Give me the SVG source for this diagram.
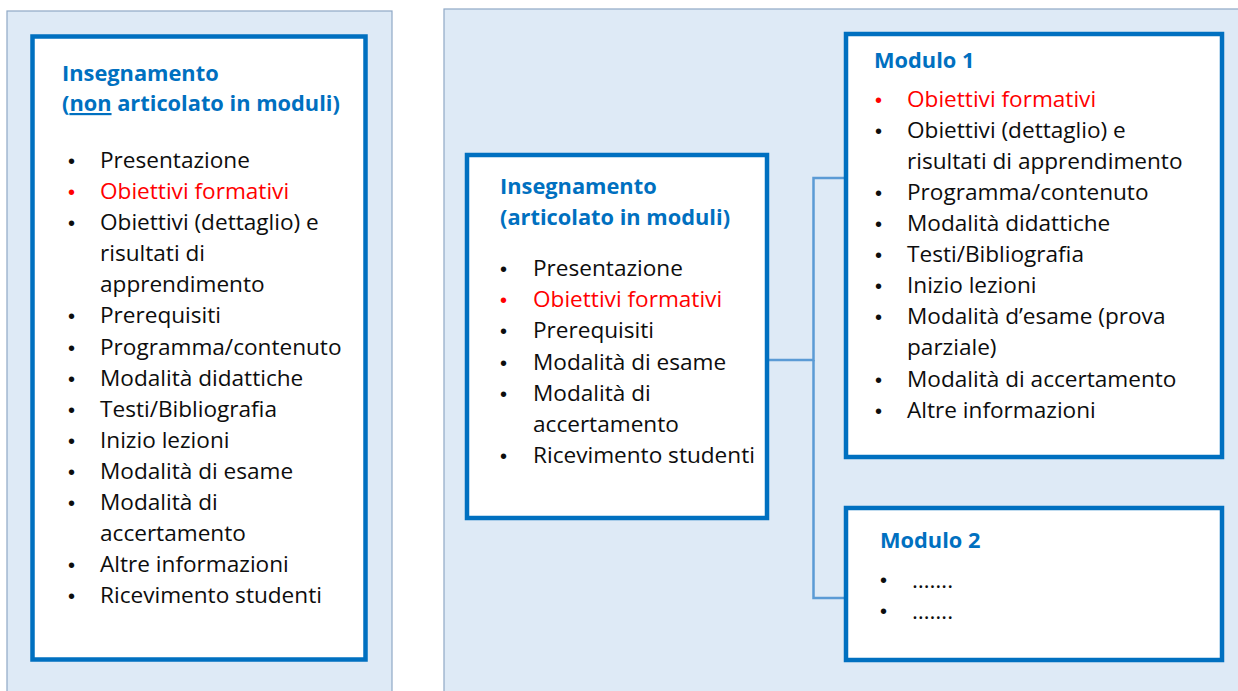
<svg xmlns="http://www.w3.org/2000/svg" width="1238" height="691" viewBox="0 0 1238 691">
<style>
.panel{fill:#DEEAF6;stroke:#8FA8C6;stroke-width:1.2}
.box{fill:#FFFFFF;stroke:#0070C0;stroke-width:4.5}
.conn{fill:none;stroke:#5B9BD5;stroke-width:2.5}
text{font-family:"Open Sans","Noto Sans","Liberation Sans",sans-serif;font-size:22.6px;fill:#0D0D0D}
.t{font-weight:bold;fill:#0070C0;font-size:21.8px}
.r{fill:#FF0000}
.b{font-family:"Liberation Sans","DejaVu Sans",sans-serif;font-size:20px}
</style>
<rect class="panel" x="7" y="11" width="385" height="700"/>
<rect class="panel" x="444" y="9" width="810" height="700"/>

<g id="connectors">
<path class="conn" d="M769 360 H813.5 V178 H846"/>
<path class="conn" d="M813.5 360 V598 H846"/>
</g>

<g id="insegnamento-non-articolato">
<rect class="box" x="32.5" y="36.5" width="333" height="623"/>
<text class="t" x="62" y="81">Insegnamento</text>
<text class="t" x="62" y="111">(<tspan text-decoration="underline">non</tspan> articolato in moduli)</text>
<g>
<text class="b" x="68" y="168">•</text><text x="100" y="168">Presentazione</text>
<text class="b r" x="68" y="199">•</text><text class="r" x="100" y="199">Obiettivi formativi</text>
<text class="b" x="68" y="230">•</text><text x="100" y="230">Obiettivi (dettaglio) e</text>
<text x="100" y="261">risultati di</text>
<text x="100" y="292">apprendimento</text>
<text class="b" x="68" y="323">•</text><text x="100" y="323">Prerequisiti</text>
<text class="b" x="68" y="355">•</text><text x="100" y="355">Programma/contenuto</text>
<text class="b" x="68" y="386">•</text><text x="100" y="386">Modalità didattiche</text>
<text class="b" x="68" y="417">•</text><text x="100" y="417">Testi/Bibliografia</text>
<text class="b" x="68" y="448">•</text><text x="100" y="448">Inizio lezioni</text>
<text class="b" x="68" y="479">•</text><text x="100" y="479">Modalità di esame</text>
<text class="b" x="68" y="510">•</text><text x="100" y="510">Modalità di</text>
<text x="100" y="541">accertamento</text>
<text class="b" x="68" y="572">•</text><text x="100" y="572">Altre informazioni</text>
<text class="b" x="68" y="603">•</text><text x="100" y="603">Ricevimento studenti</text>
</g>
</g>

<g id="insegnamento-articolato">
<rect class="box" x="467" y="155" width="300" height="363"/>
<text class="t" x="500" y="194">Insegnamento</text>
<text class="t" x="500" y="225">(articolato in moduli)</text>
<text class="b" x="500" y="276">•</text><text x="533" y="276">Presentazione</text>
<text class="b r" x="500" y="307">•</text><text class="r" x="533" y="307">Obiettivi formativi</text>
<text class="b" x="500" y="338">•</text><text x="533" y="338">Prerequisiti</text>
<text class="b" x="500" y="370">•</text><text x="533" y="370">Modalità di esame</text>
<text class="b" x="500" y="401">•</text><text x="533" y="401">Modalità di</text>
<text x="533" y="432">accertamento</text>
<text class="b" x="500" y="463">•</text><text x="533" y="463">Ricevimento studenti</text>
</g>

<g id="modulo-1">
<rect class="box" x="846" y="34" width="376" height="423"/>
<text class="t" x="874" y="68">Modulo 1</text>
<text class="b r" x="875" y="107">•</text><text class="r" x="907" y="107">Obiettivi formativi</text>
<text class="b" x="875" y="138">•</text><text x="907" y="138">Obiettivi (dettaglio) e</text>
<text x="907" y="169">risultati di apprendimento</text>
<text class="b" x="875" y="200">•</text><text x="907" y="200">Programma/contenuto</text>
<text class="b" x="875" y="231">•</text><text x="907" y="231">Modalità didattiche</text>
<text class="b" x="875" y="262">•</text><text x="907" y="262">Testi/Bibliografia</text>
<text class="b" x="875" y="293">•</text><text x="907" y="293">Inizio lezioni</text>
<text class="b" x="875" y="324">•</text><text x="907" y="324">Modalità d’esame (prova</text>
<text x="907" y="355">parziale)</text>
<text class="b" x="875" y="387">•</text><text x="907" y="387">Modalità di accertamento</text>
<text class="b" x="875" y="418">•</text><text x="907" y="418">Altre informazioni</text>
</g>

<g id="modulo-2">
<rect class="box" x="846" y="508" width="376" height="152"/>
<text class="t" x="880" y="548">Modulo 2</text>
<text class="b" x="880" y="587">•</text><text x="912" y="588">…….</text>
<text class="b" x="880" y="618">•</text><text x="912" y="619">…….</text>
</g>
</svg>
